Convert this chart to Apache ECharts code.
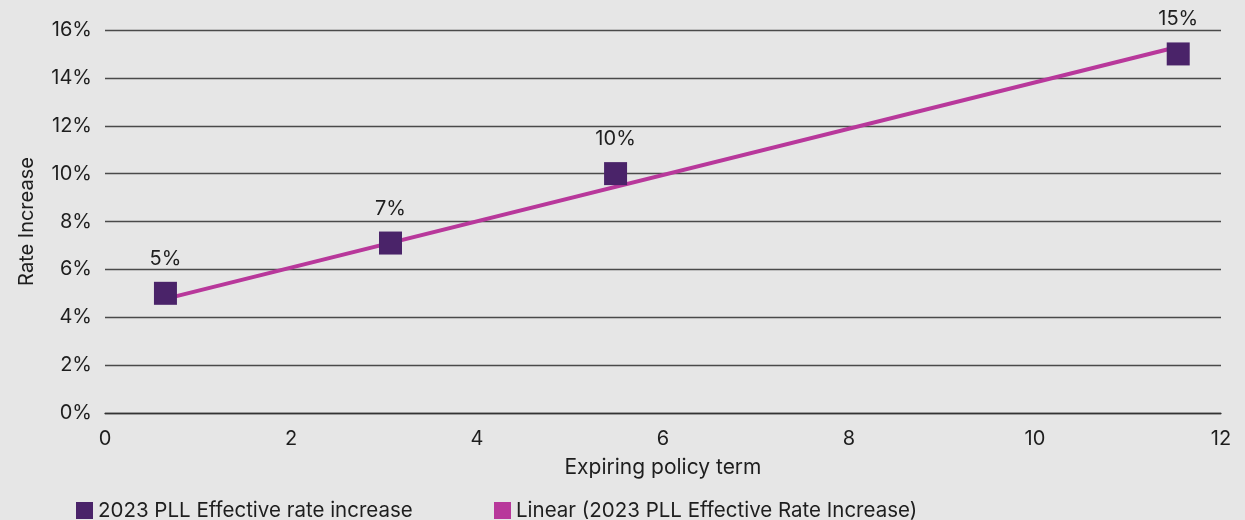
<!DOCTYPE html>
<html>
<head>
<meta charset="utf-8">
<script src="https://cdn.jsdelivr.net/npm/echarts@6/dist/echarts.min.js"></script>
<style>
html,body{margin:0;padding:0;background:#e6e6e6;}
#chart{width:1245px;height:520px;}
</style>
</head>
<body>
<div id="chart"></div>
<script>
// Data
const policyTerm = [0.65, 3.07, 5.49, 11.54];
const rateIncrease = [5.0, 7.1, 10.0, 15.0];
const trendTerm = [0.65, 11.54];
const trendRate = [4.77, 15.3];
const seriesNames = ['2023 PLL Effective rate increase', 'Linear (2023 PLL Effective Rate Increase)'];

const scatterData = policyTerm.map((x, i) => [x, rateIncrease[i]]);
const trendData = trendTerm.map((x, i) => [x, trendRate[i]]);

const FONT = 'Inter';
const FS = 20;
const TXT = '#1e1e1e';

const chart = echarts.init(document.getElementById('chart'));
chart.setOption({
  backgroundColor: '#e6e6e6',
  animation: false,
  textStyle: { fontFamily: FONT, color: TXT },
  grid: { left: 105, right: 24, top: 30, bottom: 107, containLabel: false },
  legend: [
    {
      data: [seriesNames[0]], left: 76, top: 500, padding: 0, icon: 'rect',
      itemWidth: 17, itemHeight: 17, itemGap: 6,
      textStyle: { fontFamily: FONT, fontSize: 20.5, color: TXT }
    },
    {
      data: [seriesNames[1]], left: 494, top: 500, padding: 0, icon: 'rect',
      itemWidth: 17, itemHeight: 17, itemGap: 6,
      textStyle: { fontFamily: FONT, fontSize: 20.5, color: TXT }
    }
  ],
  xAxis: {
    type: 'value', min: 0, max: 12, interval: 2,
    name: 'Expiring policy term', nameLocation: 'middle', nameGap: 44,
    nameTextStyle: { fontFamily: FONT, fontSize: 21, color: TXT },
    axisLine: { show: true, lineStyle: { color: '#333333', width: 1.3 } },
    axisTick: { show: false },
    splitLine: { show: false },
    axisLabel: { fontFamily: FONT, fontSize: FS, color: TXT, margin: 16 }
  },
  yAxis: {
    type: 'value', min: 0, max: 16, interval: 2,
    name: 'Rate Increase', nameLocation: 'middle', nameGap: 68,
    nameTextStyle: { fontFamily: FONT, fontSize: FS, color: TXT },
    axisLine: { show: false },
    axisTick: { show: false },
    splitLine: { show: true, lineStyle: { color: '#4a4a4a', width: 1.3 } },
    axisLabel: { fontFamily: FONT, fontSize: FS, color: TXT, margin: 13, formatter: '{value}%' }
  },
  series: [
    {
      name: seriesNames[0], type: 'scatter', data: scatterData,
      symbol: 'rect', symbolSize: 23, z: 3,
      itemStyle: { color: '#4a2369', opacity: 1 },
      label: {
        show: true, position: 'top', distance: 13,
        fontFamily: FONT, fontSize: FS, color: TXT,
        formatter: p => Math.round(p.value[1]) + '%'
      }
    },
    {
      name: seriesNames[1], type: 'line', data: trendData,
      showSymbol: false, symbol: 'none', z: 2,
      itemStyle: { color: '#b8389b' },
      lineStyle: { color: '#b8389b', width: 4 }
    }
  ]
});
</script>
</body>
</html>
